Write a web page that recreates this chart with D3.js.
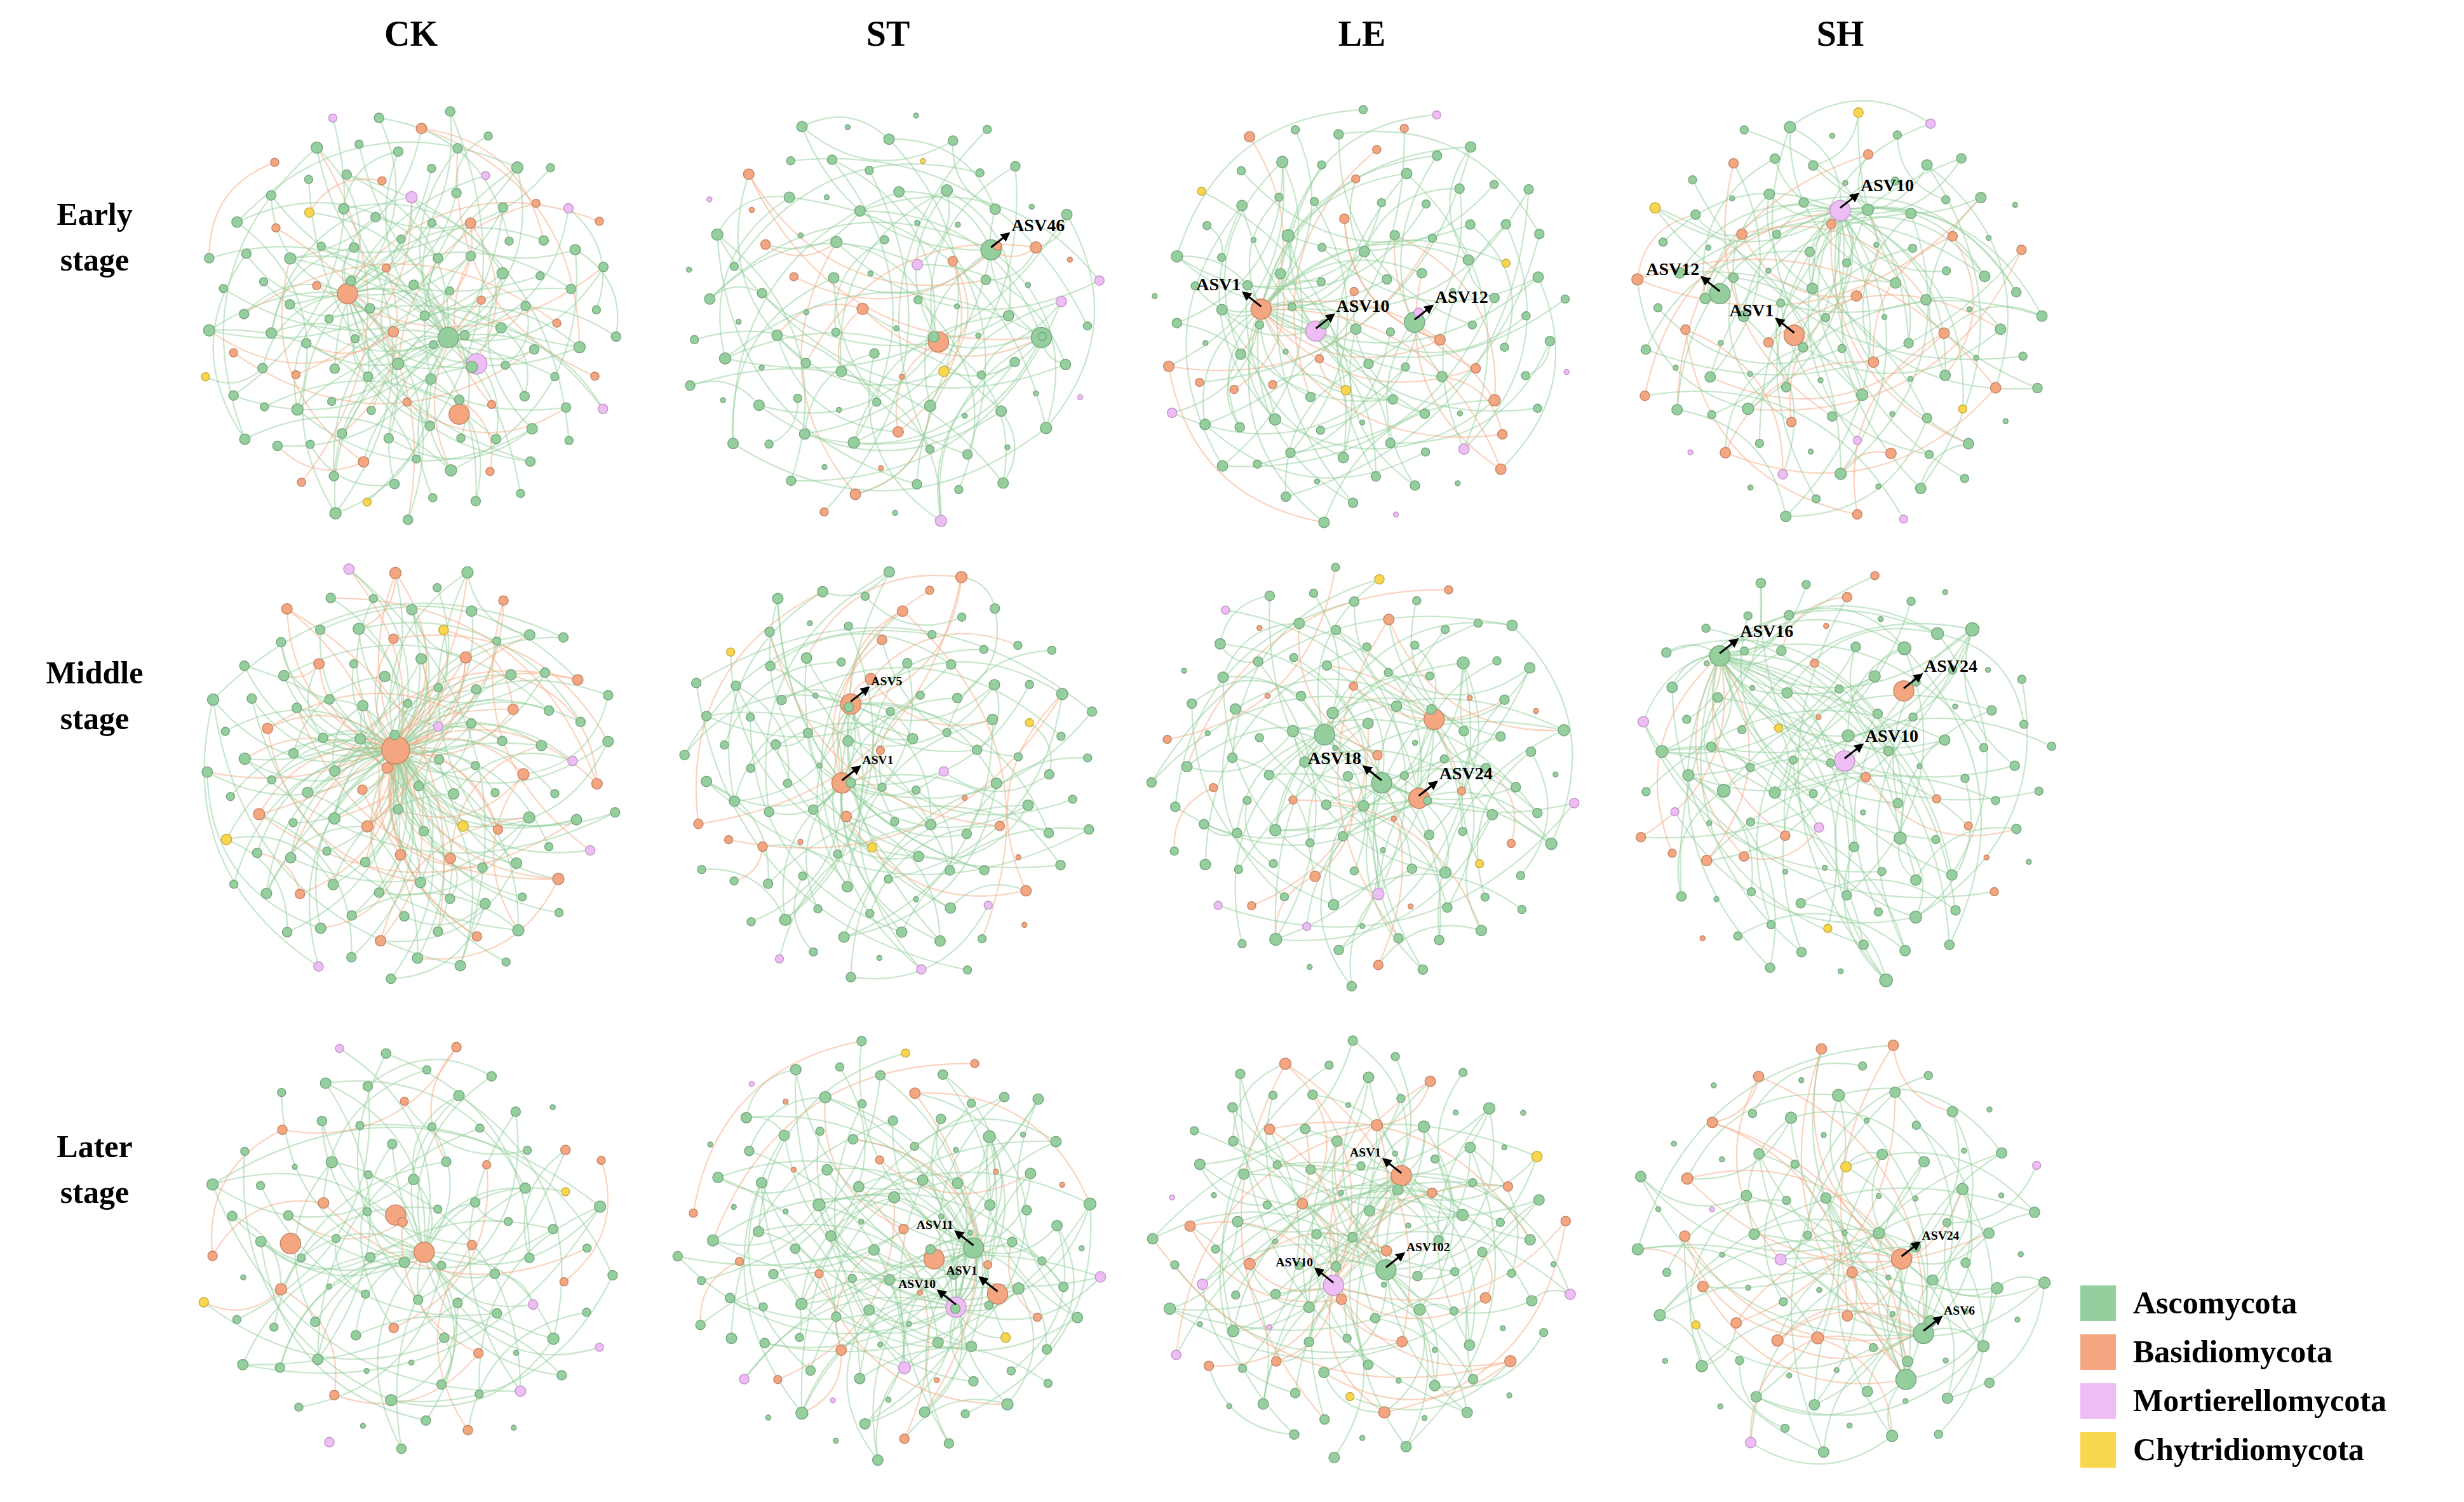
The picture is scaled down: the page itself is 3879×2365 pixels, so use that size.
<!DOCTYPE html>
<html><head><meta charset="utf-8">
<script src="https://cdn.jsdelivr.net/npm/d3@7/dist/d3.min.js"></script>
<style>body{margin:0;background:#fff}</style></head>
<body><svg id="c" width="3879" height="2365"></svg>
<script>
const columns = ["CK","ST","LE","SH"];
const stages = [["Early","stage"],["Middle","stage"],["Later","stage"]];
const phyla = ["Ascomycota","Basidiomycota","Mortierellomycota","Chytridiomycota"];
const nodeColors = ["#95cf9e","#f4a680","#efbdf6","#f8d64e"];
const edgeColors = ["#8fce98","#f5a77f","#e6b0ef","#f0cf4a"];
// node counts per phylum [Asco, Basid, Mort, Chytr], row-major (stage x treatment)
const nodeCounts = [
 [[92,20,5,3],[78,14,6,2],[82,16,6,3],[80,18,5,3]],
 [[85,22,5,3],[88,16,4,3],[90,18,5,2],[84,16,3,2]],
 [[70,16,5,2],[90,18,5,2],[88,18,5,2],[76,12,4,2]]
];
// every n-th node links to a hub (smaller = more star-like)
const hubShare = [[2,4,3,3],[1,3,3,3],[3,2,2,2]];
// hubs: phylum index, position in unit disk, label, label side
const hubs = [
 [[{p:1,x:-0.29,y:-0.10,l:""},{p:2,x:0.30,y:0.22,l:""},{p:0,x:0.17,y:0.10,l:""},{p:1,x:0.22,y:0.45,l:""}],
  [{p:0,x:0.47,y:-0.30,l:"ASV46",s:1},{p:0,x:0.70,y:0.10,l:""},{p:1,x:0.23,y:0.12,l:""}],
  [{p:1,x:-0.46,y:-0.03,l:"ASV1",s:-1},{p:2,x:-0.21,y:0.07,l:"ASV10",s:1},{p:0,x:0.24,y:0.03,l:"ASV12",s:1}],
  [{p:2,x:0.00,y:-0.48,l:"ASV10",s:1},{p:0,x:-0.55,y:-0.10,l:"ASV12",s:-1},{p:1,x:-0.21,y:0.09,l:"ASV1",s:-1}]],
 [[{p:1,x:-0.07,y:-0.11,l:""}],
  [{p:1,x:-0.17,y:-0.32,l:"ASV5",s:1,f:0.7},{p:1,x:-0.21,y:0.04,l:"ASV1",s:1,f:0.7}],
  [{p:0,x:0.09,y:0.04,l:"ASV18",s:-1},{p:1,x:0.26,y:0.11,l:"ASV24",s:1},{p:1,x:0.33,y:-0.25,l:""},{p:0,x:-0.17,y:-0.18,l:""}],
  [{p:0,x:-0.55,y:-0.54,l:"ASV16",s:1},{p:1,x:0.29,y:-0.38,l:"ASV24",s:1},{p:2,x:0.02,y:-0.06,l:"ASV10",s:1}]],
 [[{p:1,x:0.06,y:0.02,l:""},{p:1,x:-0.07,y:-0.15,l:""},{p:1,x:-0.55,y:-0.02,l:""}],
  [{p:0,x:0.39,y:0.00,l:"ASV11",s:-1,f:0.7},{p:1,x:0.50,y:0.21,l:"ASV1",s:-1,f:0.7},{p:2,x:0.31,y:0.27,l:"ASV10",s:-1,f:0.7},{p:1,x:0.21,y:0.05,l:""}],
  [{p:1,x:0.18,y:-0.33,l:"ASV1",s:-1,f:0.7},{p:2,x:-0.13,y:0.17,l:"ASV10",s:-1,f:0.7},{p:0,x:0.11,y:0.10,l:"ASV102",s:1,f:0.7}],
  [{p:1,x:0.28,y:0.05,l:"ASV24",s:1,f:0.7},{p:0,x:0.38,y:0.39,l:"ASV6",s:1,f:0.7},{p:0,x:0.30,y:0.60,l:""}]]
];
const colX = [647,1398,2144,2897];
const rowY = [497,1219,1965];
const R = 345;

const svg = d3.select("#c");
const serif = "'Liberation Serif','Times New Roman',serif";
columns.forEach((c,i)=>svg.append("text").attr("x",colX[i]).attr("y",72).attr("text-anchor","middle")
  .attr("font-family",serif).attr("font-weight","bold").attr("font-size",56).text(c));
stages.forEach((s,i)=>{
  const t=svg.append("text").attr("x",149).attr("text-anchor","middle").attr("font-family",serif)
   .attr("font-weight","bold").attr("font-size",50);
  t.append("tspan").attr("x",149).attr("y",rowY[i]-143).text(s[0]);
  t.append("tspan").attr("x",149).attr("y",rowY[i]-71).text(s[1]);
});

const defs = svg.append("defs");
defs.append("marker").attr("id","ar").attr("viewBox","0 0 10 10").attr("refX",8).attr("refY",5)
 .attr("markerWidth",5).attr("markerHeight",5).attr("orient","auto")
 .append("path").attr("d","M0,0L10,5L0,10z").attr("fill","#000");

const GA = Math.PI*(3-Math.sqrt(5));
for(let r=0;r<3;r++) for(let c=0;c<4;c++){
  const counts=nodeCounts[r][c], hs=hubs[r][c];
  const sx=d3.scaleLinear().domain([-1,1]).range([colX[c]-R,colX[c]+R]);
  const sy=d3.scaleLinear().domain([-1,1]).range([rowY[r]-R,rowY[r]+R]);
  const nodes=[];
  hs.forEach(h=>nodes.push({p:h.p,x:h.x,y:h.y,hub:h}));
  const total=d3.sum(counts);
  const seq=[]; const rem=counts.slice();
  const step=Math.round(total/counts[1]);
  while(seq.length<total){const n=seq.length;
    const ph = (n%step===1&&rem[1]>0)?1:(n%29===7&&rem[2]>0)?2:(n%41===13&&rem[3]>0)?3:(rem[0]>0?0:rem.findIndex(v=>v>0));
    rem[ph]--; seq.push(ph);}
  seq.forEach((ph,i)=>{const rad=Math.sqrt((i+0.5)/total)*0.98, a=i*GA+r+c;
    nodes.push({p:ph,x:rad*Math.cos(a),y:rad*Math.sin(a)});});
  const nh=hs.length, N=nodes.length, edges=[];
  for(let i=nh;i<N;i++){
    if((i%hubShare[r][c])===0) edges.push([i%nh,i]);
    if(i%2===0) edges.push([i,nh+((i*7+3)%(N-nh))]);
    if(i%5===0) edges.push([i,nh+((i*13+11)%(N-nh))]);
  }
  const deg=new Array(N).fill(0); edges.forEach(e=>{deg[e[0]]++;deg[e[1]]++;});
  const rs=d3.scaleSqrt().domain([0,8]).range([4,11]).clamp(true);
  const g=svg.append("g");
  g.selectAll("path.e").data(edges).join("path").attr("fill","none")
   .attr("stroke",e=>edgeColors[nodes[e[1]].p===1?1:0])
   .attr("stroke-opacity",0.5).attr("stroke-width",2.2)
   .attr("d",(e,j)=>{const a=nodes[e[0]],b=nodes[e[1]];
     const x1=sx(a.x),y1=sy(a.y),x2=sx(b.x),y2=sy(b.y);
     const mx=(x1+x2)/2,my=(y1+y2)/2,dx=x2-x1,dy=y2-y1,s=(j%2?0.35:-0.35);
     return `M${x1},${y1}Q${mx-dy*s},${my+dx*s} ${x2},${y2}`;});
  g.selectAll("circle").data(nodes).join("circle")
   .attr("cx",d=>sx(d.x)).attr("cy",d=>sy(d.y)).attr("r",(d,i)=>d.hub?(r===1&&c===0?22:16):rs(deg[i]))
   .attr("fill",d=>nodeColors[d.p]).attr("stroke",d=>d3.color(nodeColors[d.p]).darker(0.6)).attr("stroke-width",1.5);
  hs.forEach(h=>{ if(!h.l) return;
    const x=sx(h.x),y=sy(h.y),s=h.s||1,f=h.f||1;
    const tx=x+s*28, ty=y-30;
    g.append("line").attr("x1",x).attr("y1",y-4).attr("x2",tx).attr("y2",ty+4).attr("stroke","#000")
     .attr("stroke-width",3).attr("marker-end","url(#ar)");
    g.append("text").attr("x",tx+s*4).attr("y",ty).attr("text-anchor",s>0?"start":"end")
     .attr("font-family",serif).attr("font-weight","bold").attr("font-size",28*f).text(h.l);
  });
}
phyla.forEach((p,i)=>{const y=2052+i*77;
  svg.append("rect").attr("x",3275).attr("y",y-28).attr("width",56).attr("height",56).attr("fill",nodeColors[i]);
  svg.append("text").attr("x",3358).attr("y",y+16).attr("font-family",serif).attr("font-weight","bold")
   .attr("font-size",50).text(p);});
</script></body></html>
